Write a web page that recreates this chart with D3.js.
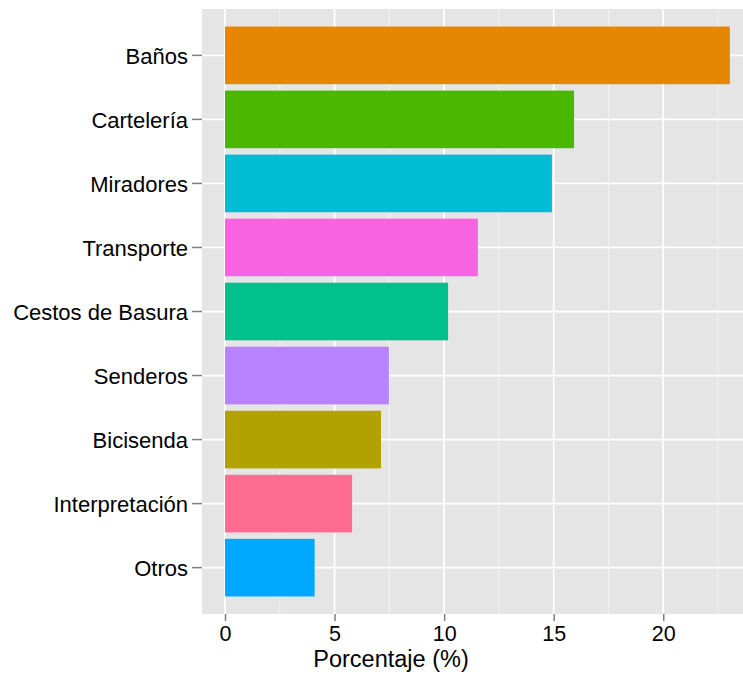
<!DOCTYPE html>
<html>
<head>
<meta charset="utf-8">
<script src="https://cdn.jsdelivr.net/npm/d3@7"></script>
<style>
  html, body { margin: 0; padding: 0; background: #ffffff; }
  svg { display: block; }
  text { font-family: "Liberation Sans", Arial, Helvetica, sans-serif; fill: #000; }
</style>
</head>
<body>
<svg id="chart" width="743" height="677"></svg>
<script>
const categories = ["Baños", "Cartelería", "Miradores", "Transporte", "Cestos de Basura", "Senderos", "Bicisenda", "Interpretación", "Otros"];
const values = [23.04, 15.93, 14.92, 11.54, 10.18, 7.48, 7.12, 5.80, 4.09];
const colors = ["#E58700", "#4CB700", "#00BDD3", "#F763E0", "#00C08B", "#B983FF", "#B1A200", "#FF6C91", "#00A9FF"];
const xMajorTicks = [0, 5, 10, 15, 20];
const xMinorTicks = [2.5, 7.5, 12.5, 17.5, 22.5];
const xTitle = "Porcentaje (%)";

const svg = d3.select("#chart");
const panel = { left: 202, right: 743, top: 9, bottom: 614 };

const x = d3.scaleLinear().domain([-1.05, 23.64]).range([panel.left, panel.right]);
const y = d3.scaleBand().domain(categories).range([panel.top, panel.bottom])
  .paddingInner(0.1).paddingOuter(0.274);

// panel background
svg.append("rect")
  .attr("x", panel.left).attr("y", panel.top)
  .attr("width", panel.right - panel.left).attr("height", panel.bottom - panel.top)
  .attr("fill", "#E5E5E5");

// minor vertical gridlines
svg.append("g").selectAll("line").data(xMinorTicks).join("line")
  .attr("x1", d => x(d)).attr("x2", d => x(d))
  .attr("y1", panel.top).attr("y2", panel.bottom)
  .attr("stroke", "#F2F2F2").attr("stroke-width", 1);

// major vertical gridlines
svg.append("g").selectAll("line").data(xMajorTicks).join("line")
  .attr("x1", d => x(d)).attr("x2", d => x(d))
  .attr("y1", panel.top).attr("y2", panel.bottom)
  .attr("stroke", "#FFFFFF").attr("stroke-width", 1.8);

// horizontal gridlines at categories
svg.append("g").selectAll("line").data(categories).join("line")
  .attr("x1", panel.left).attr("x2", panel.right)
  .attr("y1", d => y(d) + y.bandwidth() / 2).attr("y2", d => y(d) + y.bandwidth() / 2)
  .attr("stroke", "#FFFFFF").attr("stroke-width", 1.8);

// bars
svg.append("g").selectAll("rect").data(categories).join("rect")
  .attr("x", x(0))
  .attr("y", d => y(d))
  .attr("width", (d, i) => x(values[i]) - x(0))
  .attr("height", y.bandwidth())
  .attr("fill", (d, i) => colors[i]);

// x axis
const xAxis = svg.append("g")
  .attr("transform", `translate(0,${panel.bottom})`)
  .call(d3.axisBottom(x).tickValues(xMajorTicks).tickSize(7).tickPadding(5).tickFormat(d3.format("d")));
xAxis.select(".domain").remove();
xAxis.selectAll(".tick line").attr("stroke", "#7F7F7F").attr("stroke-width", 1.5);
xAxis.selectAll(".tick text").style("font-size", "21.5px").attr("fill", "#000");

// y axis
const yAxis = svg.append("g")
  .attr("transform", `translate(${panel.left},0)`)
  .call(d3.axisLeft(y).tickSize(10).tickPadding(4));
yAxis.select(".domain").remove();
yAxis.selectAll(".tick line").attr("stroke", "#7F7F7F").attr("stroke-width", 1.5);
yAxis.selectAll(".tick text").style("font-size", "22px").attr("fill", "#000").attr("dy", "0.37em");

// x title
svg.append("text")
  .attr("x", 391)
  .attr("y", 667)
  .attr("text-anchor", "middle")
  .style("font-size", "23.5px")
  .text(xTitle);
</script>
</body>
</html>
